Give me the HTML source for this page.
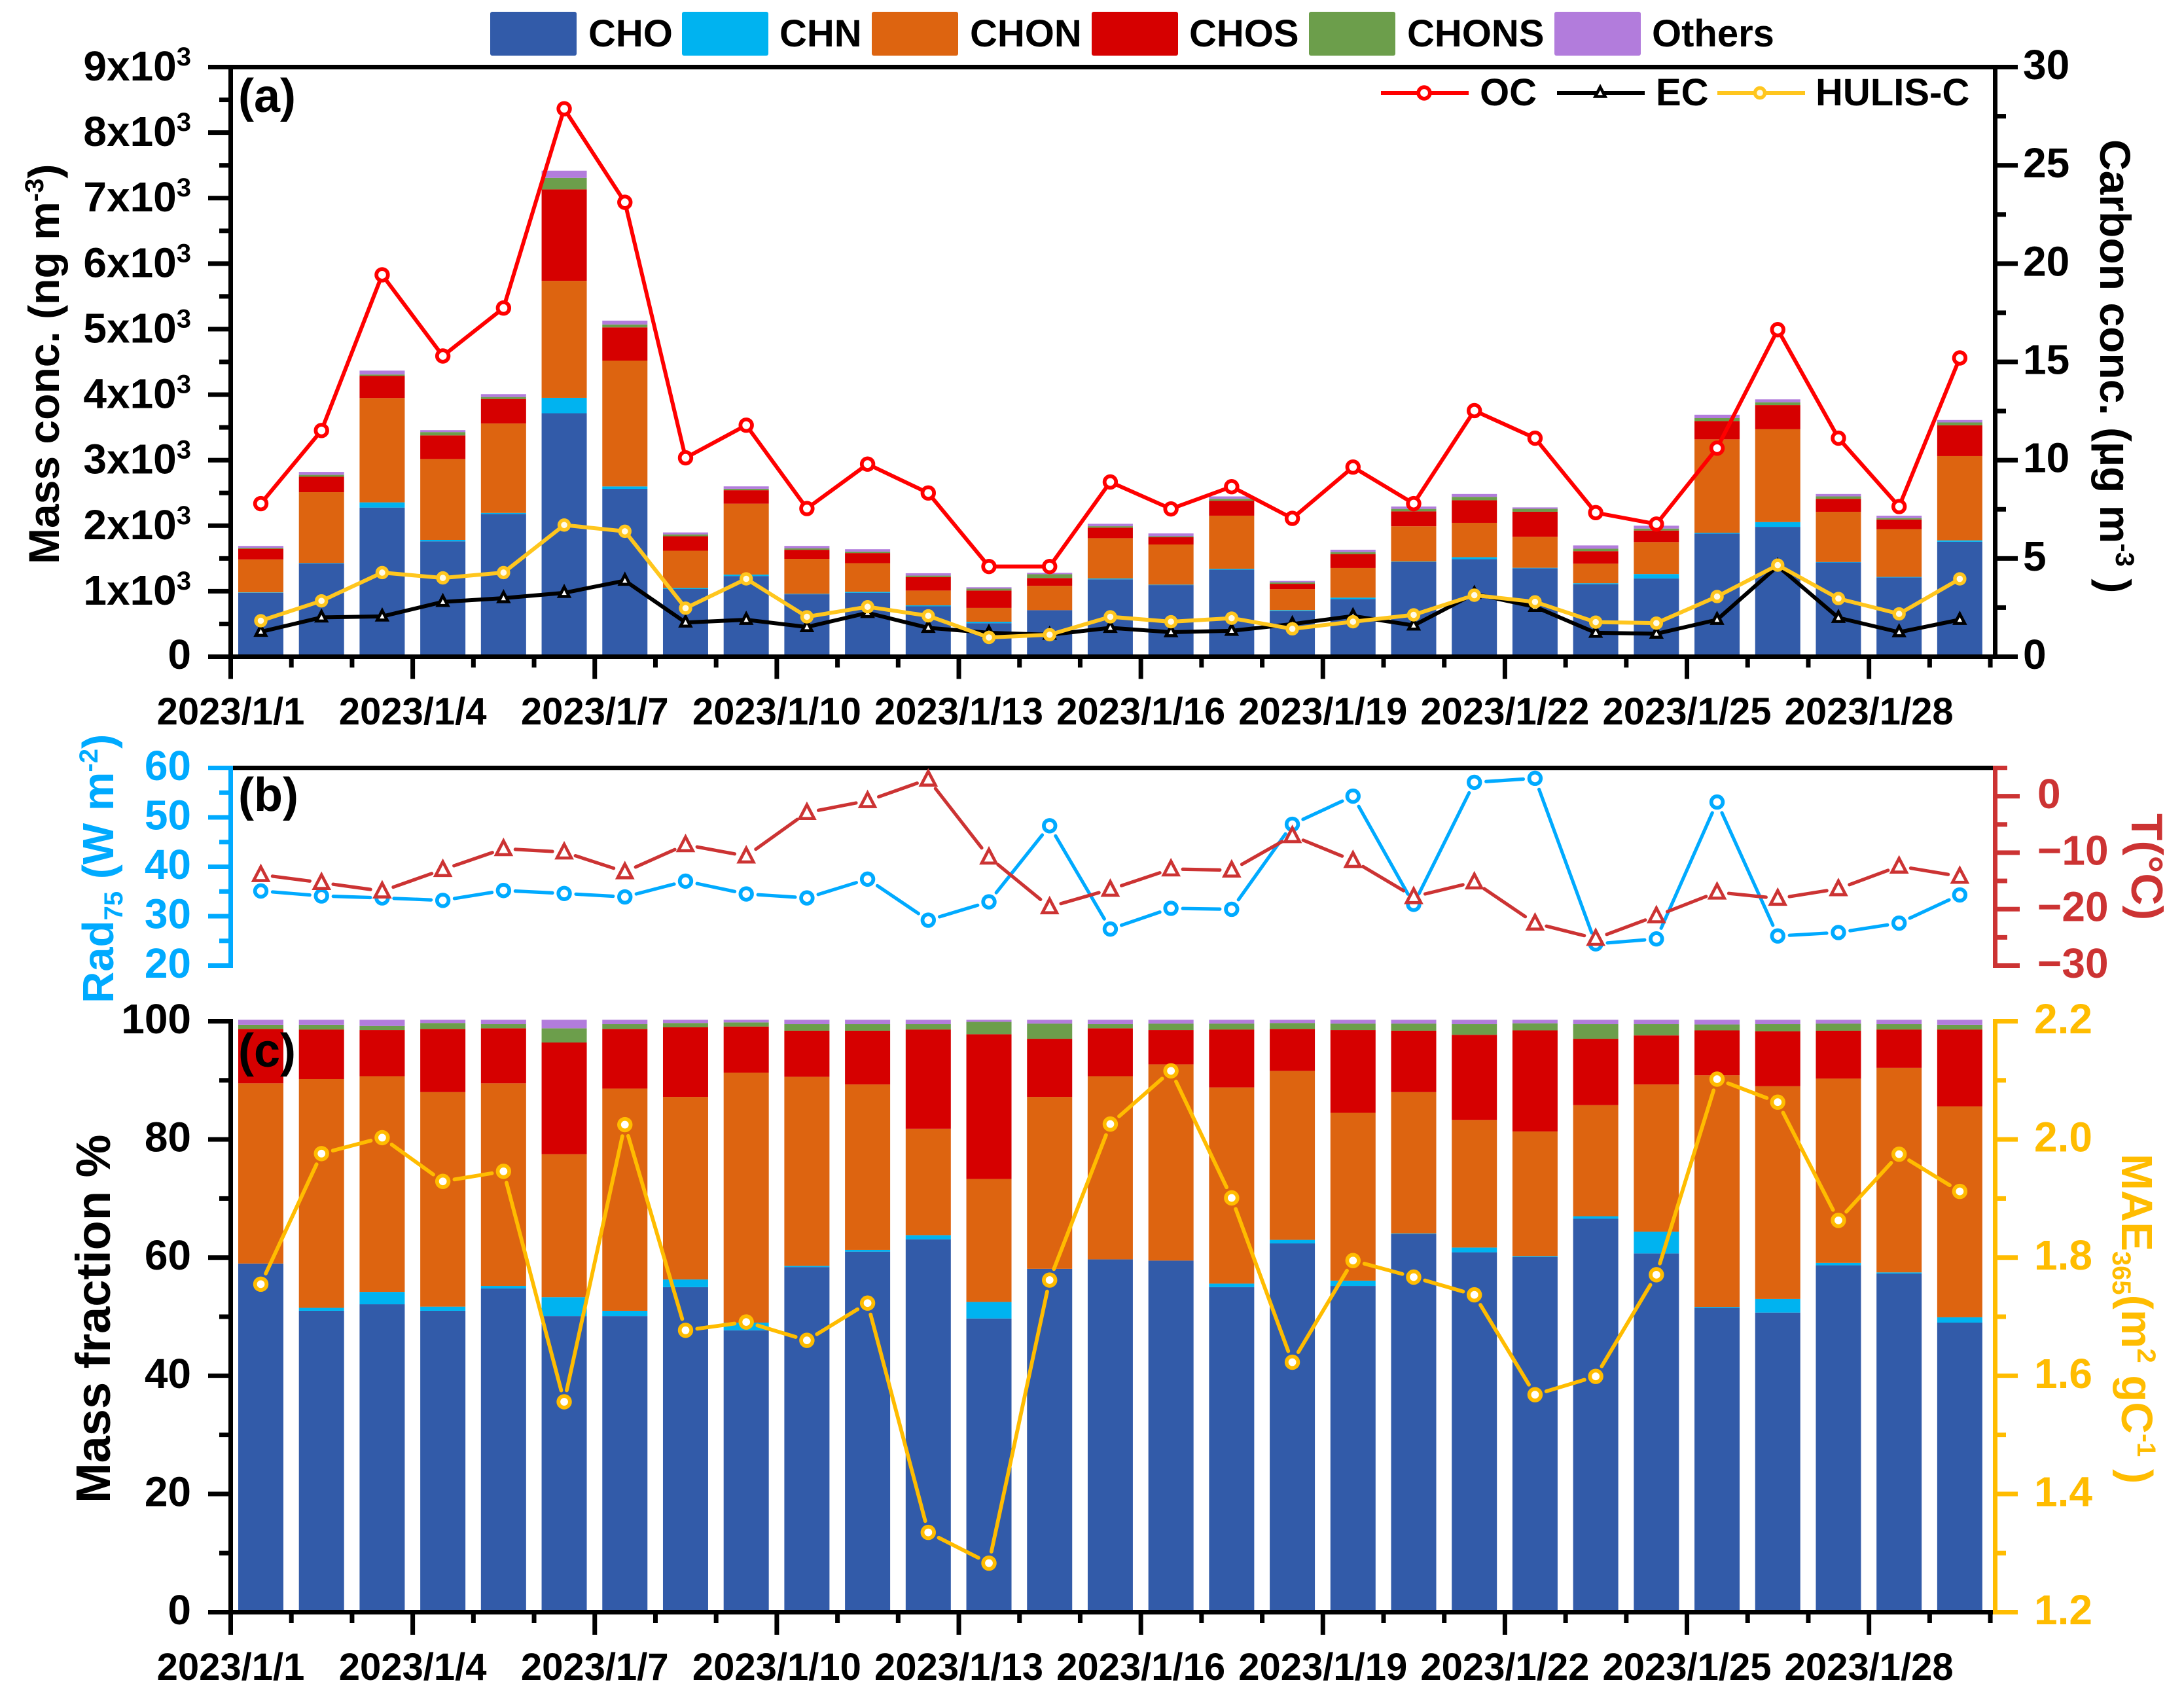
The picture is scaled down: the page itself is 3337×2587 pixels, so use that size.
<!DOCTYPE html>
<html lang="en">
<head>
<meta charset="utf-8">
<title>Mass concentration, carbon and optical time series</title>
<style>
html,body{margin:0;padding:0;background:#fff;}
svg{display:block;font-family:"Liberation Sans",Arial,sans-serif;font-weight:bold;}
</style>
</head>
<body>
<svg id="chart" xmlns="http://www.w3.org/2000/svg" width="3337" height="2587" viewBox="0 0 3337 2587">
<rect x="0" y="0" width="3337" height="2587" fill="#ffffff"/>
<g id="marks"></g>
<g id="axes"></g>
<g id="overlay"></g>

<g font-size="58">
<g><rect x="749" y="18" width="132" height="67" rx="3" fill="#325BA9"/><text x="899" y="71">CHO</text></g>
<g><rect x="1042" y="18" width="132" height="67" rx="3" fill="#00B3F0"/><text x="1191" y="71">CHN</text></g>
<g><rect x="1332" y="18" width="132" height="67" rx="3" fill="#DD6410"/><text x="1482" y="71">CHON</text></g>
<g><rect x="1668" y="18" width="132" height="67" rx="3" fill="#D60000"/><text x="1817" y="71">CHOS</text></g>
<g><rect x="2000" y="18" width="132" height="67" rx="3" fill="#6C9E4B"/><text x="2150" y="71">CHONS</text></g>
<g><rect x="2375" y="18" width="132" height="67" rx="3" fill="#B27CDC"/><text x="2524" y="71">Others</text></g>
</g>

<g font-size="58">
<g>
<line x1="2110" y1="142" x2="2244" y2="142" stroke="#FF0000" stroke-width="6"/>
<circle cx="2176" cy="142" r="8.8" fill="#fff" stroke="#FF0000" stroke-width="5.8"/>
<text x="2261" y="161">OC</text></g>
<g>
<line x1="2379" y1="142" x2="2513" y2="142" stroke="#000" stroke-width="6"/>
<polygon points="2445,133 2437.5,147.5 2452.5,147.5" fill="#fff" stroke="#000" stroke-width="4.6"/>
<text x="2530" y="161">EC</text></g>
<g>
<line x1="2624" y1="142" x2="2758" y2="142" stroke="#FFC61E" stroke-width="6"/>
<circle cx="2689" cy="142" r="7.5" fill="#FFFBE8" stroke="#FFC61E" stroke-width="5.4"/>
<text x="2774" y="161">HULIS-C</text></g>
</g>

<text x="364" y="171" font-size="72">(a)</text>
<text x="364" y="1239" font-size="72">(b)</text>
<text x="364" y="1630" font-size="72">(c)</text>

<text transform="translate(90,862) rotate(-90)" font-size="66">Mass conc. (ng m<tspan dy="-24" font-size="40">-3</tspan><tspan dy="24">)</tspan></text>
<text transform="translate(3209,213) rotate(90)" font-size="66">Carbon conc. (µg m<tspan dy="-24" font-size="40">-3</tspan><tspan dy="24"> )</tspan></text>
<text transform="translate(173,1533) rotate(-90)" font-size="67" fill="#00AAFF">Rad<tspan dy="14" font-size="40">75</tspan><tspan dy="-14"> (W m</tspan><tspan dy="-24" font-size="40">-2</tspan><tspan dy="24">)</tspan></text>
<text transform="translate(3257,1243) rotate(90)" font-size="68" fill="#CC3333">T(°C)</text>
<text transform="translate(168,2297) rotate(-90)" font-size="74">Mass fraction %</text>
<text transform="translate(3242,1763) rotate(90)" font-size="67" fill="#FFBC00">MAE<tspan dy="14" font-size="40">365</tspan><tspan dy="-14">(m</tspan><tspan dy="-24" font-size="40">2</tspan><tspan dy="24"> gC</tspan><tspan dy="-24" font-size="40">-1</tspan><tspan dy="24"> )</tspan></text>
</svg>

<script>
// ---- categories and tick labels ----
const dayCount = 29;
const xTickLabels = ["2023/1/1","2023/1/4","2023/1/7","2023/1/10","2023/1/13","2023/1/16","2023/1/19","2023/1/22","2023/1/25","2023/1/28"];
const massTicks = [0,1,2,3,4,5,6,7,8,9];
const carbonTicks = [0,5,10,15,20,25,30];
const radTicks = [20,30,40,50,60];
const tempTicks = [-30,-20,-10,0];
const fractionTicks = [0,20,40,60,80,100];
const maeTicks = ["1.2","1.4","1.6","1.8","2.0","2.2"];

// ---- panel (a) stacked mass concentration, ng m-3 ----
const massCHO = [975,1423,2276,1761,2180,3716,2562,1034,1232,953,975,769,512,711,1181,1093,1328,696,880,1445,1489,1350,1107,1195,1879,1982,1438,1210,1754];
const massCHN = [7,8,80,22,15,235,37,15,22,7,15,15,22,0,14,7,14,15,22,8,30,7,15,67,14,73,7,8,22];
const massCHON = [503,1081,1592,1235,1365,1786,1921,569,1082,533,438,226,211,371,614,613,811,321,452,538,524,474,298,488,1425,1417,767,729,1286];
const massCHOS = [162,235,338,360,374,1396,507,220,205,139,154,206,265,118,161,110,228,81,213,228,345,382,191,176,279,368,198,147,470];
const massCHONS = [15,29,22,51,30,176,44,29,22,22,22,22,29,59,22,15,29,22,30,37,52,44,37,30,44,44,37,22,44];
const massOthers = [29,45,59,30,44,110,59,30,37,37,37,36,22,22,37,44,37,22,36,37,44,22,51,44,52,44,37,37,37];

// ---- panel (a) carbon lines, ug m-3 ----
const ocValues = [7.79,11.51,19.43,15.3,17.74,27.88,23.12,10.12,11.78,7.54,9.8,8.33,4.59,4.59,8.89,7.52,8.65,7.04,9.65,7.79,12.52,11.12,7.33,6.75,10.61,16.64,11.12,7.64,15.2];
const ecValues = [1.27,2.0,2.05,2.79,2.98,3.25,3.87,1.74,1.88,1.51,2.23,1.47,1.22,1.12,1.47,1.25,1.32,1.66,2.07,1.59,3.2,2.54,1.22,1.17,1.88,4.61,1.98,1.25,1.88];
const hulisValues = [1.83,2.84,4.28,4.01,4.28,6.7,6.38,2.47,3.96,2.03,2.54,2.08,0.98,1.12,2.03,1.78,1.96,1.42,1.78,2.13,3.13,2.79,1.76,1.71,3.06,4.66,2.96,2.18,3.96];

// ---- panel (b) ----
const radValues = [35.1,34.1,33.7,33.2,35.2,34.6,33.9,37.1,34.5,33.7,37.5,29.2,32.9,48.3,27.4,31.6,31.4,48.6,54.3,32.4,57.1,57.9,24.4,25.4,53.1,26.0,26.7,28.6,34.3];
const tempValues = [-13.9,-15.3,-16.8,-13.0,-9.3,-9.9,-13.4,-8.6,-10.6,-2.9,-0.8,3.0,-10.8,-19.6,-16.5,-12.9,-13.1,-7.0,-11.4,-17.8,-15.2,-22.5,-25.2,-21.2,-17.0,-18.1,-16.4,-12.4,-14.2];

// ---- panel (c) stacked mass fraction, % ----
const fracCHO = [59.0,51.0,52.1,51.0,54.8,50.1,50.1,55.0,47.7,58.4,61.0,63.1,49.7,58.1,59.7,59.5,55.0,62.4,55.2,64.0,60.9,60.1,66.6,60.7,51.5,50.7,58.7,57.3,49.0];
const fracCHN = [0,0.5,2.1,0.7,0.4,3.2,0.9,1.3,1.3,0.2,0.3,0.7,2.8,0,0,0,0.6,0.6,0.9,0.1,0.8,0.15,0.4,3.7,0.15,2.3,0.4,0.2,0.9];
const fracCHON = [30.5,38.7,36.5,36.3,34.3,24.2,37.6,30.9,42.3,32.0,28.0,18.0,20.8,29.1,31.0,33.2,33.2,28.6,28.4,23.9,21.6,21.1,18.8,24.9,39.2,36.0,31.2,34.6,35.7];
const fracCHOS = [9.2,8.4,7.8,10.7,9.3,18.9,10.1,11.8,7.8,7.8,9.1,16.8,24.5,9.8,8.1,5.8,9.8,7.1,14.0,10.4,14.4,17.1,11.2,8.3,7.6,9.3,8.1,6.5,13.0];
const fracCHONS = [0.7,0.8,0.7,1.0,0.7,2.4,0.8,0.7,0.7,1.1,1.1,0.9,2.1,2.6,0.7,1.1,1.0,1.0,1.1,1.2,1.8,1.2,2.5,1.9,1.0,1.2,1.2,0.9,0.8];
const fracOthers = [0.85,0.85,1.05,0.55,0.75,1.45,0.75,0.55,0.45,0.75,0.75,0.75,0.35,0.65,0.75,0.65,0.65,0.55,0.65,0.65,0.75,0.6,0.75,0.75,0.8,0.75,0.65,0.75,0.85];
const maeValues = [1.755,1.976,2.003,1.929,1.946,1.556,2.025,1.677,1.691,1.660,1.723,1.335,1.283,1.762,2.026,2.116,1.901,1.623,1.795,1.767,1.737,1.568,1.599,1.771,2.102,2.063,1.863,1.975,1.912];

// ---- axis functions ----
const xCenter = i => 398.5 + i * 92.71;
const xTick = i => 352.5 + i * 92.71;
const yMass = v => 1003.5 - v * (901 / 9000);
const yCarbon = v => 1003.5 - v * (901 / 30);
const yRad = v => 1475.5 - (v - 20) * (302 / 40);
const yTemp = v => 1475.5 - (v + 30) * (302 / 35);
const yFrac = v => 2463.5 - v * 9.03;
const yMae = v => 2463.5 - (v - 1.2) * 903;

const NS = 'http://www.w3.org/2000/svg';
const marks = document.getElementById('marks');
const axes = document.getElementById('axes');
const overlay = document.getElementById('overlay');

function make(parent, tag, attrs, name) {
  const el = document.createElementNS(NS, tag);
  for (const k in attrs) el.setAttribute(k, attrs[k]);
  
  
  parent.appendChild(el);
  return el;
}

// ---- stacked bars ----
const stackColors = ['#325BA9','#00B3F0','#DD6410','#D60000','#6C9E4B','#B27CDC'];
const stackNames = ['cho','chn','chon','chos','chons','others'];
function drawStack(series, yFn, prefix) {
  for (let i = 0; i < dayCount; i++) {
    let sum = 0;
    series.forEach((s, k) => {
      const y0 = yFn(sum);
      sum += s[i];
      const y1 = yFn(sum);
      if (y0 - y1 <= 0) return;
      make(marks, 'rect', {x: xCenter(i) - 34.5, y: y1, width: 69, height: y0 - y1, fill: stackColors[k]},
        prefix + '-bar-' + stackNames[k] + '-day-' + (i + 1));
    });
  }
}
drawStack([massCHO,massCHN,massCHON,massCHOS,massCHONS,massOthers], yMass, 'mass');
drawStack([fracCHO,fracCHN,fracCHON,fracCHOS,fracCHONS,fracOthers], yFrac, 'fraction');

// ---- lines ----
function drawLine(values, yFn, color, width, name) {
  const pts = values.map((v, i) => xCenter(i).toFixed(1) + ',' + yFn(v).toFixed(1)).join(' ');
  make(overlay, 'polyline', {points: pts, fill: 'none', stroke: color, 'stroke-width': width, 'stroke-linejoin': 'round'}, name);
}
function drawGapLine(values, yFn, color, width, gap, name) {
  for (let i = 0; i < values.length - 1; i++) {
    const x1 = xCenter(i), y1 = yFn(values[i]), x2 = xCenter(i + 1), y2 = yFn(values[i + 1]);
    const d = Math.hypot(x2 - x1, y2 - y1);
    if (d <= 2 * gap) continue;
    const ux = (x2 - x1) / d, uy = (y2 - y1) / d;
    make(overlay, 'line', {x1: x1 + ux * gap, y1: y1 + uy * gap, x2: x2 - ux * gap, y2: y2 - uy * gap,
      stroke: color, 'stroke-width': width, 'stroke-linecap': 'round'}, name + '-segment-' + (i + 1));
  }
}
function drawCircles(values, yFn, r, sw, stroke, fill, name) {
  values.forEach((v, i) => {
    make(overlay, 'circle', {cx: xCenter(i), cy: yFn(v), r: r, fill: fill, stroke: stroke, 'stroke-width': sw}, name + '-point-' + (i + 1));
  });
}
function drawTriangles(values, yFn, top, base, half, sw, stroke, name) {
  values.forEach((v, i) => {
    const x = xCenter(i), y = yFn(v);
    const pts = x + ',' + (y - top) + ' ' + (x - half) + ',' + (y + base) + ' ' + (x + half) + ',' + (y + base);
    make(overlay, 'polygon', {points: pts, fill: '#fff', stroke: stroke, 'stroke-width': sw}, name + '-point-' + (i + 1));
  });
}

drawLine(ocValues, yCarbon, '#FF0000', 6, 'oc-line');
drawCircles(ocValues, yCarbon, 8.8, 5.8, '#FF0000', '#fff', 'oc');
drawLine(ecValues, yCarbon, '#000000', 6, 'ec-line');
drawTriangles(ecValues, yCarbon, 9, 5.5, 7.5, 4.6, '#000000', 'ec');
drawLine(hulisValues, yCarbon, '#FFC61E', 6, 'hulis-line');
drawCircles(hulisValues, yCarbon, 7.5, 5.4, '#FFC61E', '#FFFBE8', 'hulis');

drawGapLine(radValues, yRad, '#00AAFF', 5.2, 18, 'rad-line');
drawCircles(radValues, yRad, 8.8, 5.8, '#00AAFF', '#fff', 'rad');
drawGapLine(tempValues, yTemp, '#CC3333', 5.2, 18, 'temp-line');
drawTriangles(tempValues, yTemp, 12, 9, 11, 4.7, '#CC3333', 'temp');

drawGapLine(maeValues, yMae, '#FFBC00', 5.8, 18, 'mae-line');
drawCircles(maeValues, yMae, 8.8, 5.8, '#FFBC00', '#fff', 'mae');

// ---- axes ----
function hLine(x1, x2, y, color, name) {
  make(axes, 'rect', {x: x1, y: y - 3.5, width: x2 - x1, height: 7, fill: color}, name);
}
function vLine(x, y1, y2, color, name) {
  make(axes, 'rect', {x: x - 3.5, y: y1, width: 7, height: y2 - y1, fill: color}, name);
}
const LEFT = 352.5, RIGHT = 3048.5;
function label(x, y, txt, anchor, color, size, name) {
  const t = make(axes, 'text', {x: x, y: y, 'text-anchor': anchor, fill: color, 'font-size': size}, name);
  t.textContent = txt;
  return t;
}

// bottom axes and date labels
[[1003.5, 1037.5, 1020, 1107, 'a'], [2463.5, 2498, 2480, 2567, 'c']].forEach(p => {
  hLine(318, RIGHT + 3.5, p[0], '#000', 'x-axis-line-' + p[4]);
  for (let i = 0; i <= dayCount; i++) {
    const major = i % 3 === 0 && i < 28;
    make(axes, 'rect', {x: xTick(i) - 3.5, y: p[0], width: 7, height: (major ? p[1] : p[2]) - p[0], fill: '#000'}, 'x-tick-' + p[4] + '-' + i);
  }
  xTickLabels.forEach((s, k) => {
    label(xTick(k * 3), p[3], s, 'middle', '#000', 58, 'x-tick-label-' + p[4] + '-' + (k + 1));
  });
});

// panel (a)
hLine(318, 3083, 102.5, '#000', 'top-axis-line-a');
vLine(LEFT, 99, 1007, '#000', 'left-axis-a');
vLine(RIGHT, 99, 1007, '#000', 'right-axis-a');
massTicks.forEach(v => {
  const y = yMass(v * 1000);
  hLine(318, LEFT, y, '#000', 'mass-tick-' + v);
  if (v < 9) hLine(335, LEFT, yMass((v + 0.5) * 1000), '#000', 'mass-minor-tick-' + v);
  if (v === 0) {
    label(292, y + 18.5, '0', 'end', '#000', 64, 'mass-tick-label-0');
  } else {
    const t = label(292, y + 20.5, v + 'x10', 'end', '#000', 64, 'mass-tick-label-' + v);
    const s = document.createElementNS(NS, 'tspan');
    s.setAttribute('dy', '-23');
    s.setAttribute('font-size', '40');
    s.textContent = '3';
    t.appendChild(s);
  }
});
carbonTicks.forEach((v, k) => {
  const y = yCarbon(v);
  hLine(RIGHT, 3083, y, '#000', 'carbon-tick-' + v);
  if (k < carbonTicks.length - 1) hLine(RIGHT, 3065, yCarbon(v + 2.5), '#000', 'carbon-minor-tick-' + v);
  label(3091, y + 18.5, String(v), 'start', '#000', 64, 'carbon-tick-label-' + v);
});

// panel (b)
hLine(349, 3045, 1173.5, '#000', 'top-axis-line-b');
vLine(LEFT, 1170, 1479, '#00AAFF', 'left-axis-b');
vLine(RIGHT, 1170, 1479, '#CC3333', 'right-axis-b');
radTicks.forEach((v, k) => {
  const y = yRad(v);
  hLine(318, LEFT, y, '#00AAFF', 'rad-tick-' + v);
  if (k < radTicks.length - 1) hLine(335, LEFT, yRad(v + 5), '#00AAFF', 'rad-minor-tick-' + v);
  label(292, y + 18.5, String(v), 'end', '#00AAFF', 64, 'rad-tick-label-' + v);
});
tempTicks.forEach(v => {
  const y = yTemp(v);
  hLine(RIGHT, 3086, y, '#CC3333', 'temp-tick-' + v);
  hLine(RIGHT, 3067, yTemp(v + 5), '#CC3333', 'temp-minor-tick-' + v);
  label(3113, y + 18.5, v < 0 ? '\u2212' + (-v) : String(v), 'start', '#CC3333', 64, 'temp-tick-label-' + v);
});

// panel (c)
vLine(LEFT, 1557, 2467, '#000', 'left-axis-c');
vLine(RIGHT, 1557, 2467, '#FFBC00', 'right-axis-c');
fractionTicks.forEach((v, k) => {
  const y = yFrac(v);
  hLine(318, LEFT, y, '#000', 'fraction-tick-' + v);
  if (k < fractionTicks.length - 1) hLine(335, LEFT, yFrac(v + 10), '#000', 'fraction-minor-tick-' + v);
  label(292, y + 18.5, String(v), 'end', '#000', 64, 'fraction-tick-label-' + v);
});
maeTicks.forEach((s, k) => {
  const v = parseFloat(s);
  const y = yMae(v);
  hLine(RIGHT, 3083, y, '#FFBC00', 'mae-tick-' + s);
  if (k < maeTicks.length - 1) hLine(RIGHT, 3065, yMae(v + 0.1), '#FFBC00', 'mae-minor-tick-' + s);
  label(3108, y + 18.5, s, 'start', '#FFBC00', 64, 'mae-tick-label-' + s);
});
</script>
</body>
</html>
